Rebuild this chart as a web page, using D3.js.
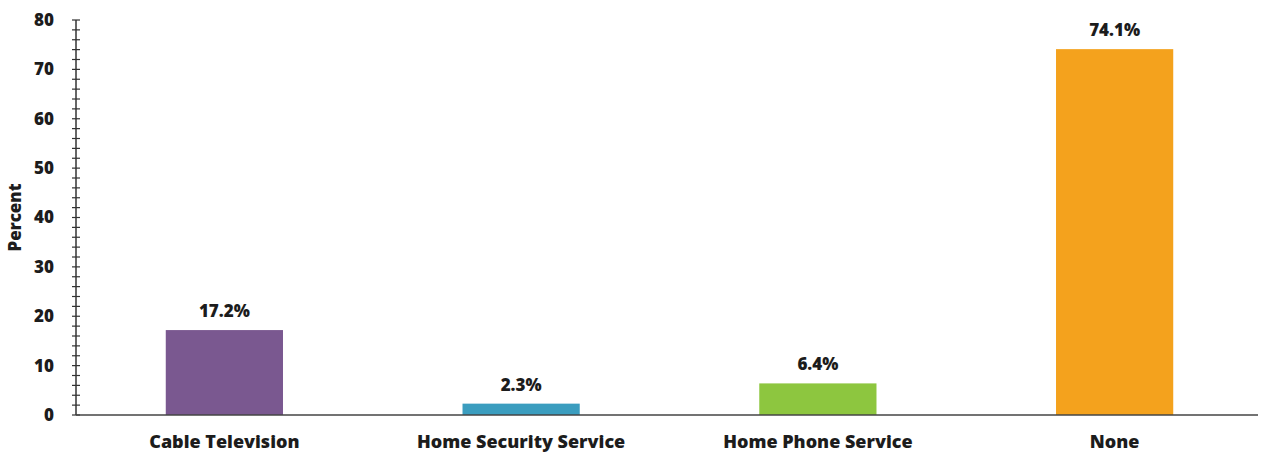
<!DOCTYPE html>
<html>
<head>
<meta charset="utf-8">
<script src="https://cdn.jsdelivr.net/npm/d3@7"></script>
<style>
  html, body { margin: 0; padding: 0; background: #fff; }
  svg { display: block; }
  text { font-family: "Open Sans", "Noto Sans", sans-serif; font-weight: 800; fill: #1c1c1c; }
</style>
</head>
<body>
<svg id="chart" width="1265" height="457"></svg>
<script>
// Services bundled with the plan, share of respondents (%)
const categories = ["Cable Television", "Home Security Service", "Home Phone Service", "None"];
const values = [17.2, 2.3, 6.4, 74.1];
const colors = ["#7a5890", "#3b9dbf", "#8dc63f", "#f4a21d"];
const yTicks = [0, 10, 20, 30, 40, 50, 60, 70, 80];
const yMinorTicks = d3.range(0, 81, 2);

const svg = d3.select("#chart");
const plot = { left: 76, right: 1263, top: 20, bottom: 415 };

const x = d3.scaleBand()
  .domain(categories)
  .range([plot.left, plot.right])
  .paddingInner(0.605)
  .paddingOuter(0.3025);

const y = d3.scaleLinear().domain([0, 80]).range([plot.bottom, plot.top]);

// Bars
svg.append("g").selectAll("rect")
  .data(values)
  .join("rect")
  .attr("x", (d, i) => x(categories[i]))
  .attr("y", d => y(d))
  .attr("width", x.bandwidth())
  .attr("height", d => y(0) - y(d))
  .attr("fill", (d, i) => colors[i]);

// Value labels
svg.append("g").selectAll("text")
  .data(values)
  .join("text")
  .attr("x", (d, i) => x(categories[i]) + x.bandwidth() / 2)
  .attr("y", d => y(d) - 13)
  .attr("text-anchor", "middle")
  .attr("font-size", 17)
  .text(d => d.toFixed(1) + "%");

// Y axis: minor ticks crossing the line
const yAxis = svg.append("g").attr("transform", `translate(${plot.left},0)`);
yAxis.append("line")
  .attr("x1", 0).attr("x2", 0)
  .attr("y1", y(80)).attr("y2", y(0))
  .attr("stroke", "#333").attr("stroke-width", 1.5);
yAxis.selectAll("line.minor")
  .data(yMinorTicks)
  .join("line")
  .attr("class", "minor")
  .attr("x1", -4).attr("x2", 4)
  .attr("y1", d => y(d)).attr("y2", d => y(d))
  .attr("stroke", "#333").attr("stroke-width", 1.2);
yAxis.selectAll("text")
  .data(yTicks)
  .join("text")
  .attr("x", -22)
  .attr("y", d => y(d))
  .attr("dy", "0.35em")
  .attr("text-anchor", "end")
  .attr("font-size", 17)
  .text(d => d);

// X axis baseline
svg.append("line")
  .attr("x1", plot.left).attr("x2", 1258)
  .attr("y1", y(0)).attr("y2", y(0))
  .attr("stroke", "#444").attr("stroke-width", 1.5);

// Category labels
svg.append("g").selectAll("text")
  .data(categories)
  .join("text")
  .attr("x", d => x(d) + x.bandwidth() / 2)
  .attr("y", 448)
  .attr("text-anchor", "middle")
  .attr("font-size", 18)
  .text(d => d);

// Y axis title
svg.append("text")
  .attr("transform", `translate(21,${(plot.top + plot.bottom) / 2}) rotate(-90)`)
  .attr("text-anchor", "middle")
  .attr("font-size", 17)
  .text("Percent");
</script>
</body>
</html>
